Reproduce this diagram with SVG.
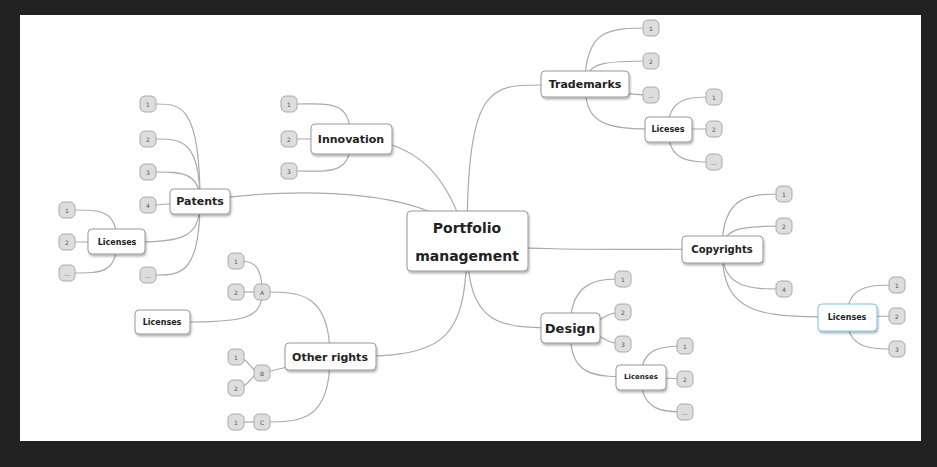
<svg xmlns="http://www.w3.org/2000/svg" width="937" height="467" viewBox="0 0 937 467">
<style>
.c{fill:none;stroke:#aaa;stroke-width:1.2}
.b{fill:#fff;stroke:#999;stroke-width:1;filter:url(#sh)}
.l{fill:#ddd;stroke:#aaa;stroke-width:1}
.t{font-family:"DejaVu Sans",sans-serif;font-weight:bold;fill:#222;text-anchor:middle;dominant-baseline:central}
.s{font-family:"DejaVu Sans",sans-serif;font-size:6px;fill:#555;text-anchor:middle;dominant-baseline:central}
</style>
<defs><filter id="sh" x="-20%" y="-20%" width="140%" height="160%"><feDropShadow dx="1" dy="2" stdDeviation="1" flood-color="#000" flood-opacity="0.3"/></filter></defs>
<rect width="937" height="467" fill="#222"/>
<rect x="20" y="15" width="901" height="426" fill="#fff"/>
<g id="connectors" class="c">
<path d="M467,241 C467,85 490,85 541,85"/>
<path d="M467,241 C440,190 300,185 200,201"/>
<path d="M467,241 C450,180 420,139 351,139"/>
<path d="M467,241 C480,250 600,250 722,249"/>
<path d="M467,241 C467,330 500,328 570,328"/>
<path d="M467,241 C467,350 440,357 330,357"/>
<!-- innovation -->
<path d="M351,139 C351,100 330,104 297,104"/><path d="M351,139 L297,139"/><path d="M351,139 C351,175 330,171 297,171"/>
<!-- patents -->
<path d="M200,201 C200,104 180,104 156,104"/><path d="M200,201 C200,139 180,139 156,139"/><path d="M200,201 C200,172 180,172 156,172"/><path d="M200,201 L156,205"/><path d="M200,201 C200,275 180,275 156,275"/><path d="M200,201 C200,242 180,242 117,242"/>
<path d="M117,242 C117,210 100,210 75,210"/><path d="M117,242 L75,242"/><path d="M117,242 C117,273 100,273 75,273"/>
<!-- other rights -->
<path d="M330,357 C330,292 300,292 262,292"/><path d="M330,357 L262,373"/><path d="M330,357 C330,422 300,422 262,422"/>
<path d="M262,292 C262,261 250,261 236,261"/><path d="M262,292 L236,292"/><path d="M262,292 C262,322 240,322 162,322"/>
<path d="M262,373 C250,373 250,357 236,357"/><path d="M262,373 C250,373 250,388 236,388"/><path d="M262,422 L236,422"/>
<!-- trademarks -->
<path d="M585,84 C585,28 610,28 651,28"/><path d="M585,84 C585,61 610,61 651,61"/><path d="M585,84 C610,84 610,95 651,95"/><path d="M585,84 C585,129 610,129 668,129"/>
<path d="M668,129 C668,97 690,97 714,97"/><path d="M668,129 L714,129"/><path d="M668,129 C668,162 690,162 714,162"/>
<!-- copyrights -->
<path d="M722,249 C722,194 750,194 784,194"/><path d="M722,249 C722,226 750,226 784,226"/><path d="M722,249 C722,289 750,289 784,289"/><path d="M722,249 C722,317 760,317 847,317"/>
<path d="M847,317 C847,285 870,285 897,285"/><path d="M847,317 L897,316"/><path d="M847,317 C847,349 870,349 897,349"/>
<!-- design -->
<path d="M570,328 C570,279 600,279 623,279"/><path d="M570,328 C600,328 600,312 623,312"/><path d="M570,328 C600,328 600,344 623,344"/><path d="M570,328 C570,377 590,377 641,377"/>
<path d="M641,377 C641,346 665,346 685,346"/><path d="M641,377 L685,379"/><path d="M641,377 C641,412 665,412 685,412"/>
</g>
<g id="center"><rect class="b" x="407" y="211" width="121" height="60" rx="4"/><text class="t" x="467" y="228" font-size="14">Portfolio</text><text class="t" x="467" y="256" font-size="14">management</text></g>
<g id="innovation"><rect class="b" x="311" y="124" width="81" height="30" rx="4"/><text class="t" x="351" y="139" font-size="11">Innovation</text></g>
<g id="patents"><rect class="b" x="170" y="189" width="60" height="25" rx="4"/><text class="t" x="200" y="201" font-size="11">Patents</text></g>
<g id="patents-lic"><rect class="b" x="88" y="229" width="57" height="25" rx="4"/><text class="t" x="117" y="242" font-size="8">Licenses</text></g>
<g id="other"><rect class="b" x="285" y="343" width="91" height="27" rx="4"/><text class="t" x="330" y="357" font-size="11">Other rights</text></g>
<g id="other-lic"><rect class="b" x="135" y="310" width="55" height="24" rx="4"/><text class="t" x="162" y="322" font-size="8">Licenses</text></g>
<g id="trademarks"><rect class="b" x="541" y="71" width="88" height="26" rx="4"/><text class="t" x="585" y="84" font-size="11">Trademarks</text></g>
<g id="tm-lic"><rect class="b" x="645" y="117" width="47" height="25" rx="4"/><text class="t" x="668" y="129" font-size="8">Liceses</text></g>
<g id="copyrights"><rect class="b" x="682" y="236" width="81" height="27" rx="4"/><text class="t" x="722" y="249" font-size="10">Copyrights</text></g>
<g id="cr-lic"><rect class="b" x="818" y="304" width="59" height="27" rx="4" style="stroke:#7bc4e8"/><text class="t" x="847" y="317" font-size="8">Licenses</text></g>
<g id="design"><rect class="b" x="541" y="313" width="59" height="30" rx="4"/><text class="t" x="570" y="328" font-size="13">Design</text></g>
<g id="design-lic"><rect class="b" x="616" y="365" width="50" height="25" rx="4"/><text class="t" x="641" y="377" font-size="7">Licenses</text></g>
<g id="leaves">
<g transform="translate(289,104)"><rect class="l" x="-8" y="-8" width="16" height="16" rx="5"/><text class="s">1</text></g>
<g transform="translate(289,139)"><rect class="l" x="-8" y="-8" width="16" height="16" rx="5"/><text class="s">2</text></g>
<g transform="translate(289,171)"><rect class="l" x="-8" y="-8" width="16" height="16" rx="5"/><text class="s">3</text></g>
<g transform="translate(148,104)"><rect class="l" x="-8" y="-8" width="16" height="16" rx="5"/><text class="s">1</text></g>
<g transform="translate(148,139)"><rect class="l" x="-8" y="-8" width="16" height="16" rx="5"/><text class="s">2</text></g>
<g transform="translate(148,172)"><rect class="l" x="-8" y="-8" width="16" height="16" rx="5"/><text class="s">3</text></g>
<g transform="translate(148,205)"><rect class="l" x="-8" y="-8" width="16" height="16" rx="5"/><text class="s">4</text></g>
<g transform="translate(148,275)"><rect class="l" x="-8" y="-8" width="16" height="16" rx="5"/><text class="s">…</text></g>
<g transform="translate(67,210)"><rect class="l" x="-8" y="-8" width="16" height="16" rx="5"/><text class="s">1</text></g>
<g transform="translate(67,242)"><rect class="l" x="-8" y="-8" width="16" height="16" rx="5"/><text class="s">2</text></g>
<g transform="translate(67,273)"><rect class="l" x="-8" y="-8" width="16" height="16" rx="5"/><text class="s">…</text></g>
<g transform="translate(262,292)"><rect class="l" x="-8" y="-8" width="16" height="16" rx="5"/><text class="s">A</text></g>
<g transform="translate(262,373)"><rect class="l" x="-8" y="-8" width="16" height="16" rx="5"/><text class="s">B</text></g>
<g transform="translate(262,422)"><rect class="l" x="-8" y="-8" width="16" height="16" rx="5"/><text class="s">C</text></g>
<g transform="translate(236,261)"><rect class="l" x="-8" y="-8" width="16" height="16" rx="5"/><text class="s">1</text></g>
<g transform="translate(236,292)"><rect class="l" x="-8" y="-8" width="16" height="16" rx="5"/><text class="s">2</text></g>
<g transform="translate(236,357)"><rect class="l" x="-8" y="-8" width="16" height="16" rx="5"/><text class="s">1</text></g>
<g transform="translate(236,388)"><rect class="l" x="-8" y="-8" width="16" height="16" rx="5"/><text class="s">2</text></g>
<g transform="translate(236,422)"><rect class="l" x="-8" y="-8" width="16" height="16" rx="5"/><text class="s">1</text></g>
<g transform="translate(651,28)"><rect class="l" x="-8" y="-8" width="16" height="16" rx="5"/><text class="s">1</text></g>
<g transform="translate(651,61)"><rect class="l" x="-8" y="-8" width="16" height="16" rx="5"/><text class="s">2</text></g>
<g transform="translate(651,95)"><rect class="l" x="-8" y="-8" width="16" height="16" rx="5"/><text class="s">…</text></g>
<g transform="translate(714,97)"><rect class="l" x="-8" y="-8" width="16" height="16" rx="5"/><text class="s">1</text></g>
<g transform="translate(714,129)"><rect class="l" x="-8" y="-8" width="16" height="16" rx="5"/><text class="s">2</text></g>
<g transform="translate(714,162)"><rect class="l" x="-8" y="-8" width="16" height="16" rx="5"/><text class="s">…</text></g>
<g transform="translate(784,194)"><rect class="l" x="-8" y="-8" width="16" height="16" rx="5"/><text class="s">1</text></g>
<g transform="translate(784,226)"><rect class="l" x="-8" y="-8" width="16" height="16" rx="5"/><text class="s">2</text></g>
<g transform="translate(784,289)"><rect class="l" x="-8" y="-8" width="16" height="16" rx="5"/><text class="s">4</text></g>
<g transform="translate(897,285)"><rect class="l" x="-8" y="-8" width="16" height="16" rx="5"/><text class="s">1</text></g>
<g transform="translate(897,316)"><rect class="l" x="-8" y="-8" width="16" height="16" rx="5"/><text class="s">2</text></g>
<g transform="translate(897,349)"><rect class="l" x="-8" y="-8" width="16" height="16" rx="5"/><text class="s">3</text></g>
<g transform="translate(623,279)"><rect class="l" x="-8" y="-8" width="16" height="16" rx="5"/><text class="s">1</text></g>
<g transform="translate(623,312)"><rect class="l" x="-8" y="-8" width="16" height="16" rx="5"/><text class="s">2</text></g>
<g transform="translate(623,344)"><rect class="l" x="-8" y="-8" width="16" height="16" rx="5"/><text class="s">3</text></g>
<g transform="translate(685,346)"><rect class="l" x="-8" y="-8" width="16" height="16" rx="5"/><text class="s">1</text></g>
<g transform="translate(685,379)"><rect class="l" x="-8" y="-8" width="16" height="16" rx="5"/><text class="s">2</text></g>
<g transform="translate(685,412)"><rect class="l" x="-8" y="-8" width="16" height="16" rx="5"/><text class="s">…</text></g>
</g>
</svg>
